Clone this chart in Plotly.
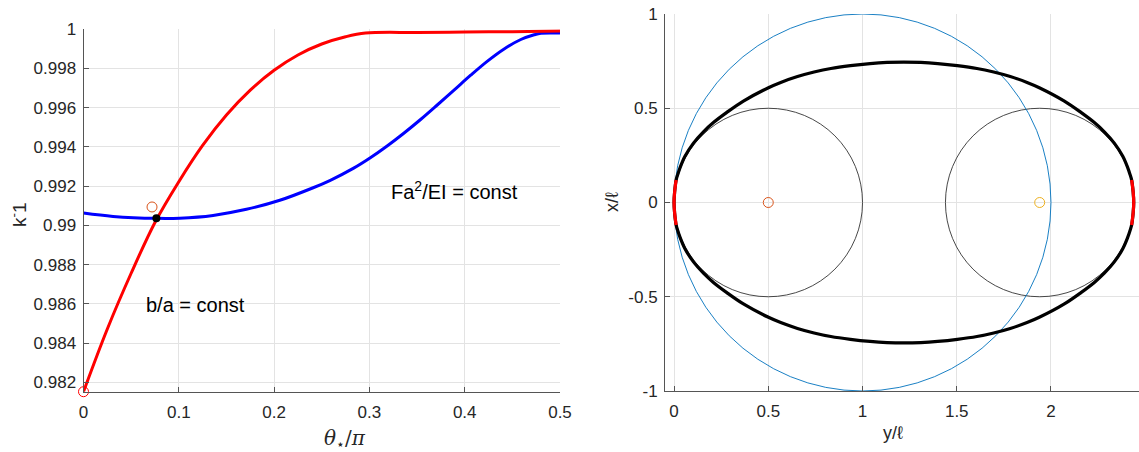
import numpy as np
import plotly.graph_objects as go

# ---------------- Left panel data ----------------
theta_red = [0.0, 0.025, 0.05, 0.075, 0.1, 0.125, 0.15, 0.175, 0.2, 0.225, 0.25, 0.275,
             0.296, 0.35, 0.40, 0.45, 0.5]
k_red = [0.98152, 0.98472, 0.98756, 0.99015, 0.99223, 0.99408, 0.99563, 0.99690, 0.99791,
         0.99869, 0.99925, 0.99962, 0.99981, 0.99984, 0.99986, 0.99988, 0.99991]

theta_blue = [0.0, 0.031, 0.0765, 0.101, 0.136, 0.171, 0.206, 0.241, 0.259, 0.2835,
              0.301, 0.3186, 0.3361, 0.3537, 0.3712, 0.3888, 0.4063, 0.4239, 0.4414,
              0.4589, 0.4729, 0.480, 0.5]
k_blue = [0.99063, 0.99046, 0.99036, 0.99037, 0.99051, 0.99082, 0.99128, 0.99192, 0.99230,
          0.99292, 0.99345, 0.99405, 0.99470, 0.99540, 0.99614, 0.99690, 0.99766, 0.99838,
          0.99900, 0.99948, 0.99972, 0.99980, 0.99981]

pt_start = (0.0, 0.98152)        # red open circle
pt_guess = (0.0719, 0.99094)     # orange open circle
pt_cross = (0.0765, 0.99036)     # black dot

left_xticks = [0, 0.1, 0.2, 0.3, 0.4, 0.5]
left_xticktext = ["0", "0.1", "0.2", "0.3", "0.4", "0.5"]
left_yticks = [0.982, 0.984, 0.986, 0.988, 0.990, 0.992, 0.994, 0.996, 0.998, 1.0]
left_yticktext = ["0.982", "0.984", "0.986", "0.988", "0.99", "0.992", "0.994", "0.996", "0.998", "1"]

# ---------------- Right panel data ----------------
# upper half of the closed curve: horizontal (y/l) and vertical (x/l) coordinates
curve_h = [0.000, 0.003, 0.011, 0.020, 0.032, 0.058, 0.103, 0.156, 0.209, 0.280, 0.368,
           0.501, 0.566, 0.655, 0.743, 0.832, 0.936, 1.040, 1.130, 1.2195,
           1.309, 1.399, 1.503, 1.607, 1.696, 1.784, 1.873, 1.938, 2.071, 2.159,
           2.230, 2.283, 2.336, 2.381, 2.407, 2.419, 2.428, 2.436, 2.439]
curve_v = [0.000, 0.055, 0.119, 0.150, 0.185, 0.245, 0.315, 0.375, 0.424, 0.478, 0.538,
           0.609, 0.637, 0.668, 0.692, 0.711, 0.726, 0.737, 0.743, 0.745,
           0.743, 0.737, 0.726, 0.711, 0.692, 0.668, 0.637, 0.609, 0.538, 0.478,
           0.424, 0.375, 0.315, 0.245, 0.185, 0.150, 0.119, 0.055, 0.000]
red_limit = 0.119

circle_cx = [0.5, 1.94, 1.0]
circle_r = [0.5, 0.5, 1.0]
circle_color = ["#333333", "#333333", "#0072BD"]

center_h = [0.5, 1.94]
center_v = [0.0, 0.0]
center_color = ["#D95319", "#EDB120"]

right_xticks = [0, 0.5, 1, 1.5, 2]
right_xticktext = ["0", "0.5", "1", "1.5", "2"]
right_yticks = [-1, -0.5, 0, 0.5, 1]
right_yticktext = ["-1", "-0.5", "0", "0.5", "1"]

FONT = "Arial, Liberation Sans, sans-serif"
W, H = 1139, 452

fig = go.Figure()

# left panel
fig.add_trace(go.Scatter(x=theta_blue, y=k_blue, mode="lines",
                         line=dict(color="#0000FF", width=3, shape="spline", smoothing=1.0),
                         xaxis="x", yaxis="y", showlegend=False))
fig.add_trace(go.Scatter(x=theta_red, y=k_red, mode="lines",
                         line=dict(color="#FF0000", width=3, shape="spline", smoothing=1.0),
                         xaxis="x", yaxis="y", showlegend=False))
fig.add_trace(go.Scatter(x=[pt_guess[0]], y=[pt_guess[1]], mode="markers",
                         marker=dict(symbol="circle-open", size=10, color="#D95319", line=dict(width=1)),
                         xaxis="x", yaxis="y", showlegend=False))
fig.add_trace(go.Scatter(x=[pt_start[0]], y=[pt_start[1]], mode="markers", cliponaxis=False,
                         marker=dict(symbol="circle-open", size=10, color="#FF0000", line=dict(width=1)),
                         xaxis="x", yaxis="y", showlegend=False))
fig.add_trace(go.Scatter(x=[pt_cross[0]], y=[pt_cross[1]], mode="markers",
                         marker=dict(symbol="circle", size=8, color="#000000"),
                         xaxis="x", yaxis="y", showlegend=False))

# right panel: circles as shapes
for cx, r, col in zip(circle_cx, circle_r, circle_color):
    fig.add_shape(type="circle", xref="x2", yref="y2",
                  x0=cx - r, x1=cx + r, y0=-r, y1=r,
                  line=dict(color=col, width=0.9), layer="between")

h = np.array(curve_h)
v = np.array(curve_v)
full_h = np.concatenate([h, h[::-1][1:]])
full_v = np.concatenate([v, -v[::-1][1:]])
fig.add_trace(go.Scatter(x=full_h, y=full_v, mode="lines",
                         line=dict(color="#000000", width=3.2, shape="spline", smoothing=1.0),
                         xaxis="x2", yaxis="y2", showlegend=False))

mid = (h[0] + h[-1]) / 2
for side in (h < mid, h > mid):
    sel = side & (v <= red_limit)
    hh, vv = h[sel], v[sel]
    order = np.argsort(vv)
    hh, vv = hh[order], vv[order]
    seg_h = np.concatenate([hh[::-1], hh[1:]])
    seg_v = np.concatenate([vv[::-1], -vv[1:]])
    fig.add_trace(go.Scatter(x=seg_h, y=seg_v, mode="lines",
                             line=dict(color="#FF0000", width=3.2, shape="spline", smoothing=1.0),
                             xaxis="x2", yaxis="y2", showlegend=False))

for ch, cv, cc in zip(center_h, center_v, center_color):
    fig.add_trace(go.Scatter(x=[ch], y=[cv], mode="markers",
                             marker=dict(symbol="circle-open", size=10, color=cc, line=dict(width=1)),
                             xaxis="x2", yaxis="y2", showlegend=False))

axis_common = dict(showgrid=True, gridcolor="#e3e3e3", gridwidth=1, zeroline=False,
                   showline=True, linecolor="#555555", linewidth=1, automargin=False,
                   ticks="inside", ticklen=5, tickcolor="#555555",
                   tickfont=dict(family=FONT, size=17, color="#262626"))

fig.update_layout(
    width=W, height=H, margin=dict(l=0, r=0, t=0, b=0, autoexpand=False),
    paper_bgcolor="white", plot_bgcolor="white", showlegend=False,
    xaxis=dict(domain=[83.5 / W, 560 / W], range=[0, 0.5], anchor="y",
               tickvals=left_xticks, ticktext=left_xticktext, ticklabelstandoff=5, **axis_common),
    yaxis=dict(domain=[1 - 391.7 / H, 1 - 29.3 / H], range=[0.98152, 1.0], anchor="x",
               tickvals=left_yticks, ticktext=left_yticktext, ticklabelstandoff=3, **axis_common),
    xaxis2=dict(domain=[665 / W, 1.0], range=[-0.048, 2.467], anchor="y2",
                tickvals=right_xticks, ticktext=right_xticktext, ticklabelstandoff=5, **axis_common),
    yaxis2=dict(domain=[1 - 391 / H, 1 - 14 / H], range=[-1, 1], anchor="x2",
                tickvals=right_yticks, ticktext=right_yticktext, ticklabelstandoff=3, **axis_common),
)

ann_font = dict(family=FONT, size=20, color="#000000")
fig.add_annotation(x=0.117, y=0.98592, xref="x", yref="y", text="b/a = const",
                   showarrow=False, font=ann_font)
fig.add_annotation(x=0.389, y=0.99179, xref="x", yref="y", text="Fa<sup>2</sup>/EI = const",
                   showarrow=False, font=ann_font)
fig.add_annotation(x=321.7 / W, y=1 - 434 / H, xref="paper", yref="paper", yshift=-20,
                   text="<i>θ</i><sub>⋆</sub>/<i>π</i>", showarrow=False,
                   font=dict(family="DejaVu Serif, Liberation Serif, serif", size=20, color="#262626"))
fig.add_annotation(x=18 / W, y=1 - 215 / H, xref="paper", yref="paper", textangle=-90, xshift=-14,
                   text="k<sup>-</sup>1", showarrow=False,
                   font=dict(family=FONT, size=19, color="#262626"))
fig.add_annotation(x=905 / W, y=1 - 434 / H, xref="paper", yref="paper", yshift=-11,
                   text="y/ℓ", showarrow=False,
                   font=dict(family=FONT, size=18, color="#262626"))
fig.add_annotation(x=612 / W, y=1 - 202 / H, xref="paper", yref="paper", textangle=-90,
                   text="x/ℓ", showarrow=False,
                   font=dict(family=FONT, size=18, color="#262626"))

fig.write_html("out.html")
